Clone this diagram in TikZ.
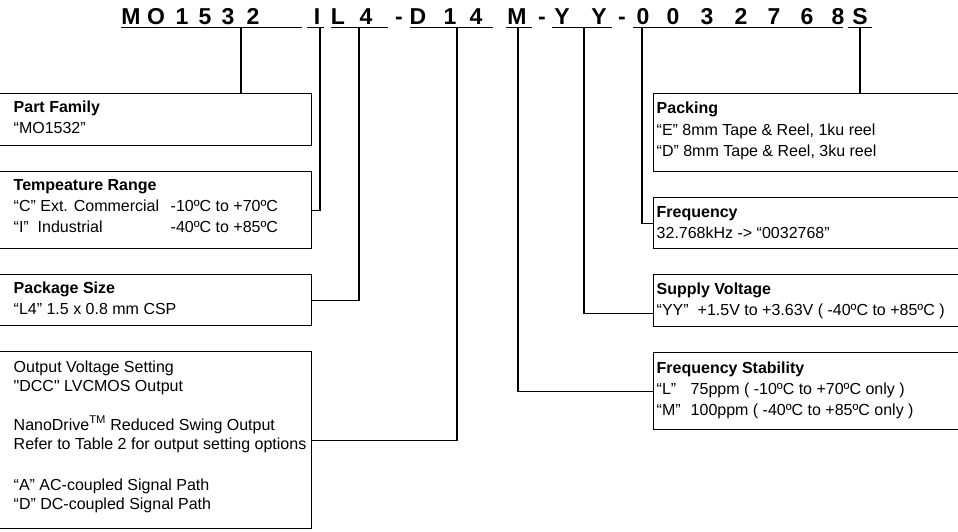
\documentclass[tikz,border=0pt]{standalone}
\usepackage{fontspec}
\setmainfont{Liberation Sans}
\begin{document}
\begin{tikzpicture}[x=1pt,y=-1pt,line width=1.4pt,
  hdr/.style={font=\bfseries\fontsize{23}{27}\selectfont,inner sep=0pt,anchor=base},
  ttl/.style={font=\bfseries\fontsize{16}{19}\selectfont,inner sep=0pt,anchor=base west},
  txt/.style={font=\fontsize{16}{19}\selectfont,inner sep=0pt,anchor=base west},
  box/.style={draw,rectangle,inner sep=0pt,anchor=north west},
  ul/.style={line width=1.6pt}]
\useasboundingbox (0,0) rectangle (958,531);
\clip (0,0) rectangle (958,531);
% header characters
\foreach \ch/\xx [count=\i] in {M/131,O/156,1/182,5/205,3/228,2/253,I/317,L/338,4/366,-/399,D/418,1/450,4/476,M/517,-/542,Y/562,Y/599,-/622,0/643,0/673,3/707,2/741,7/774,6/807,8/838,S/860}
  \node[hdr] (h\i) at (\xx,24) {\ch};
% underline segments
\foreach \a/\b in {121/302,307/324,331/388,410/493,506/532,552/612,633/843,848/872}
  \draw[ul] (\a,27.5) -- (\b,27.5);
% tick coordinates
\coordinate (cMO) at (241,27.5);
\coordinate (cI) at (320,27.5);
\coordinate (cL) at (359,27.5);
\coordinate (cD) at (457,27.5);
\coordinate (cM) at (518,27.5);
\coordinate (cY) at (584,27.5);
\coordinate (cF) at (642,27.5);
\coordinate (cS) at (860,27.5);
% left boxes
\node[box,minimum width=316pt,minimum height=52pt] (pf) at (-5,93) {};
\node[box,minimum width=316pt,minimum height=77pt] (tr) at (-5,171) {};
\node[box,minimum width=316pt,minimum height=51pt] (ps) at (-5,274) {};
\node[box,minimum width=316pt,minimum height=177pt] (ov) at (-5,351) {};
% right boxes
\node[box,minimum width=320pt,minimum height=78pt] (pk) at (653,93) {};
\node[box,minimum width=320pt,minimum height=51pt] (fq) at (653,197) {};
\node[box,minimum width=320pt,minimum height=52pt] (sv) at (653,274) {};
\node[box,minimum width=320pt,minimum height=77pt] (fs) at (653,352) {};
% connectors
\draw (cMO) -- (cMO |- pf.north);
\draw (cI) |- (tr.east);
\draw (cL) |- (ps.east);
\draw (cD) |- (ov.east);
\draw (cM) |- (fs.west);
\draw (cY) |- ([yshift=-13pt]sv.west);
\draw (cF) |- (fq.west);
\draw (cS) -- (cS |- pk.north);
% left texts
\node[ttl] (pf1) at (13,112) {Part Family};
\node[txt] (pf2) at (13,133) {“MO1532”};
\node[ttl] (tr1) at (13,190) {Tempeature Range};
\node[txt] (tr2) at (13,211) {“C” Ext. Commercial};
\node[txt] (tr2b) at (170,211) {-10ºC to +70ºC};
\node[txt] (tr3) at (13,232) {“I”\ \ Industrial};
\node[txt] (tr3b) at (170,232) {-40ºC to +85ºC};
\node[ttl] (ps1) at (13,293) {Package Size};
\node[txt] (ps2) at (13,314) {“L4” 1.5 x 0.8 mm CSP};
\node[txt] (ov1) at (13,372) {Output Voltage Setting};
\node[txt] (ov2) at (13,391) {\textquotedbl DCC\textquotedbl\ LVCMOS Output};
\node[txt] (ov3) at (13,430) {NanoDrive\textsuperscript{TM} Reduced Swing Output};
\node[txt] (ov4) at (13,449) {Refer to Table 2 for output setting options};
\node[txt] (ov5) at (13,490) {“A” AC-coupled Signal Path};
\node[txt] (ov6) at (13,509) {“D” DC-coupled Signal Path};
% right texts
\node[ttl] (pk1) at (656,113) {Packing};
\node[txt] (pk2) at (656,135) {“E” 8mm Tape \& Reel, 1ku reel};
\node[txt] (pk3) at (656,156) {“D” 8mm Tape \& Reel, 3ku reel};
\node[ttl] (fq1) at (656,217) {Frequency};
\node[txt] (fq2) at (656,238) {32.768kHz -> “0032768”};
\node[ttl] (sv1) at (656,294) {Supply Voltage};
\node[txt] (sv2) at (656,315) {“YY”};
\node[txt] (sv2b) at (697,315) {+1.5V to +3.63V ( -40ºC to +85ºC )};
\node[ttl] (fs1) at (656,373) {Frequency Stability};
\node[txt] (fs2) at (656,394) {“L”};
\node[txt] (fs2b) at (690,394) {75ppm ( -10ºC to +70ºC only )};
\node[txt] (fs3) at (656,415) {“M”};
\node[txt] (fs3b) at (690,415) {100ppm ( -40ºC to +85ºC only )};
\end{tikzpicture}
\end{document}
